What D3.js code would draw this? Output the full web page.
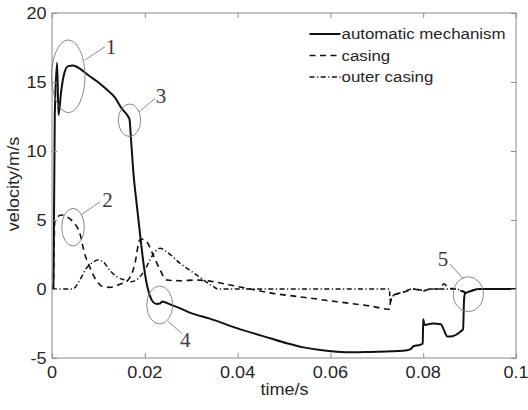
<!DOCTYPE html>
<html>
<head>
<meta charset="utf-8">
<script src="https://cdn.jsdelivr.net/npm/d3@7"></script>
<style>
  html, body { margin: 0; padding: 0; background: #fff; }
  svg { display: block; }
</style>
</head>
<body>
<svg id="chart" width="528" height="410"></svg>
<script>
// ---- data (time in s, velocity in m/s) ----
const mechT = [0, 0.0003, 0.0006, 0.0011, 0.0014, 0.0020, 0.0027, 0.0035, 0.0045, 0.0063, 0.0080, 0.0099, 0.0118, 0.0135, 0.0150, 0.0164, 0.0167, 0.0170, 0.0175, 0.0183, 0.0190, 0.0197, 0.0204, 0.0211, 0.0218, 0.0226, 0.0233, 0.0238, 0.0245, 0.0252, 0.0276, 0.0300, 0.0340, 0.0400, 0.0470, 0.0506, 0.0542, 0.0578, 0.0614, 0.0650, 0.0685, 0.0757, 0.0772, 0.0779, 0.0793, 0.0799, 0.0800, 0.0803, 0.0820, 0.0838, 0.0845, 0.0852, 0.0865, 0.0880, 0.0886, 0.0888, 0.0890, 0.0905, 0.0920, 0.1];
const mechV = [0, 0, 12.6, 16.4, 12.6, 14.4, 15.7, 16.15, 16.2, 15.9, 15.45, 15.0, 14.45, 13.9, 13.1, 12.5, 12.3, 11.0, 8.6, 6.0, 3.9, 1.9, 0.4, -0.5, -0.95, -1.08, -1.05, -0.9, -0.98, -1.08, -1.4, -1.75, -2.15, -2.85, -3.57, -3.93, -4.23, -4.42, -4.54, -4.59, -4.56, -4.47, -4.37, -4.15, -4.05, -3.95, -2.2, -2.6, -2.5, -2.55, -3.0, -3.45, -3.4, -3.1, -2.9, -0.8, -0.35, -0.12, 0, 0];

const casingT = [0, 0.0003, 0.0006, 0.0009, 0.0020, 0.0031, 0.0045, 0.0060, 0.0070, 0.0081, 0.0095, 0.0110, 0.0124, 0.0146, 0.0164, 0.0178, 0.0189, 0.0193, 0.0204, 0.0218, 0.0233, 0.0247, 0.0276, 0.0312, 0.0348, 0.0384, 0.0420, 0.0470, 0.0542, 0.0614, 0.0685, 0.0728, 0.0730, 0.0733, 0.0760, 0.0779, 0.0800, 0.0815, 0.0835, 0.0845, 0.0855, 0.0870, 0.0886, 0.0894, 0.0905, 0.0920, 0.1];
const casingV = [0, 0.5, 4.9, 5.1, 5.36, 5.24, 4.88, 4.03, 2.6, 1.62, 0.65, 0.17, 0.12, 0.34, 0.65, 1.74, 3.55, 3.62, 3.43, 2.46, 1.38, 0.65, 0.6, 0.65, 0.53, 0.29, 0.05, -0.28, -0.6, -0.92, -1.23, -1.47, -0.6, -0.5, -0.2, 0, -0.15, 0, 0, 0.38, 0.05, 0, -0.2, -0.3, -0.12, 0, 0];

const outerT = [0, 0.0045, 0.0060, 0.0074, 0.0085, 0.0099, 0.0110, 0.0124, 0.0139, 0.0157, 0.0171, 0.0186, 0.0200, 0.0211, 0.0220, 0.0233, 0.0247, 0.0276, 0.0312, 0.0348, 0.0358, 0.0727, 0.0729, 0.0733, 0.0757, 0.0779, 0.0800, 0.0815, 0.0870, 0.0886, 0.0894, 0.0905, 0.0920, 0.1];
const outerV = [0, 0, 0.65, 1.5, 1.86, 2.1, 1.98, 1.38, 0.9, 0.65, 0.53, 0.77, 1.38, 2.1, 2.6, 2.95, 2.7, 1.86, 1.01, 0.17, 0, 0, -1.0, -0.55, -0.22, 0.02, -0.1, 0, 0, -0.15, -0.28, -0.12, 0, 0];

const xTicks = [0, 0.02, 0.04, 0.06, 0.08, 0.1];
const xTickLabels = ["0", "0.02", "0.04", "0.06", "0.08", "0.1"];
const yTicks = [-5, 0, 5, 10, 15, 20];
const yTickLabels = ["-5", "0", "5", "10", "15", "20"];
const seriesNames = ["automatic mechanism", "casing", "outer casing"];
const annotationLabels = ["1", "2", "3", "4", "5"];

(function () {
const svg = d3.select("#chart");
const pLeft = 52, pRight = 516, pTop = 13, pBottom = 358;
const x = d3.scaleLinear().domain([0, 0.1]).range([pLeft, pRight]);
const y = d3.scaleLinear().domain([-5, 20]).range([pBottom, pTop]);
const axisColor = "#8a8a8a";
const textColor = "#262626";
const font = "'Liberation Sans', Arial, sans-serif";
const stretch = 1.13;

function addText(g, str, tx, ty, opts) {
  opts = opts || {};
  const rot = opts.rotate ? ` rotate(${opts.rotate})` : "";
  return g.append("text")
    .attr("transform", `translate(${tx},${ty})${rot} scale(${opts.sx || stretch},1)`)
    .attr("text-anchor", opts.anchor || "start")
    .attr("dy", opts.dy || 0)
    .attr("font-family", opts.family || font)
    .attr("font-size", opts.size || 16)
    .attr("fill", opts.fill || textColor)
    .text(str);
}

svg.append("clipPath").attr("id", "plotclip")
  .append("rect").attr("x", pLeft).attr("y", pTop).attr("width", pRight - pLeft).attr("height", pBottom - pTop);

const lineGen = d3.line().x(d => x(d[0])).y(d => y(d[1])).curve(d3.curveMonotoneX);
const plot = svg.append("g").attr("clip-path", "url(#plotclip)");

const series = [
  { t: outerT, v: outerV, dash: "5,2.5,1.2,2.5", w: 1.5 },
  { t: casingT, v: casingV, dash: "6,4.5", w: 1.6 },
  { t: mechT, v: mechV, dash: null, w: 2 }
];
series.forEach(s => {
  const pts = s.t.map((t, i) => [t, s.v[i]]);
  plot.append("path")
    .attr("d", lineGen(pts))
    .attr("fill", "none")
    .attr("stroke", "#111")
    .attr("stroke-width", s.w)
    .attr("stroke-dasharray", s.dash)
    .attr("stroke-linejoin", "round");
});

const axes = svg.append("g");
axes.append("rect")
  .attr("x", pLeft).attr("y", pTop).attr("width", pRight - pLeft).attr("height", pBottom - pTop)
  .attr("fill", "none").attr("stroke", axisColor).attr("stroke-width", 1);

const bottomAxis = d3.axisBottom(x).tickValues(xTicks).tickSize(-5).tickFormat("");
const topAxis = d3.axisTop(x).tickValues(xTicks).tickSize(-5).tickFormat("");
const leftAxis = d3.axisLeft(y).tickValues(yTicks).tickSize(-5).tickFormat("");
const rightAxis = d3.axisRight(y).tickValues(yTicks).tickSize(-5).tickFormat("");
[[bottomAxis, `translate(0,${pBottom})`], [topAxis, `translate(0,${pTop})`],
 [leftAxis, `translate(${pLeft},0)`], [rightAxis, `translate(${pRight},0)`]].forEach(([ax, tr]) => {
  const g = axes.append("g").attr("transform", tr).call(ax);
  g.select(".domain").remove();
  g.selectAll("line").attr("stroke", axisColor);
});

xTicks.forEach((t, i) => addText(svg, xTickLabels[i], x(t), 378, { anchor: "middle" }));
yTicks.forEach((v, i) => addText(svg, yTickLabels[i], 46.5, y(v), { anchor: "end", dy: "0.36em" }));

addText(svg, "time/s", 284.5, 395, { anchor: "middle" });
addText(svg, "velocity/m/s", 18.5, 184, { anchor: "middle", rotate: -90 });

const legendY = [34, 55.5, 77];
const legendDash = [null, "6,4.5", "5,2.5,1.2,2.5"];
const legendW = [2, 1.6, 1.5];
seriesNames.forEach((name, i) => {
  svg.append("line")
    .attr("x1", 309.5).attr("x2", 340.5).attr("y1", legendY[i]).attr("y2", legendY[i])
    .attr("stroke", "#111").attr("stroke-width", legendW[i]).attr("stroke-dasharray", legendDash[i]);
  addText(svg, name, 341.5, legendY[i], { dy: "0.35em", size: 14.8, sx: 1.14 });
});

const ann = [
  { cx: 68.3, cy: 76.3, rx: 16.7, ry: 36.3, l: [85, 60, 105, 46.7], tx: 111, ty: 54 },
  { cx: 73, cy: 227.2, rx: 11.3, ry: 18.8, l: [81, 215, 100, 201.7], tx: 107.5, ty: 206.5 },
  { cx: 129.5, cy: 120.3, rx: 11.2, ry: 16.3, l: [139.3, 111.7, 155, 98.3], tx: 161, ty: 103 },
  { cx: 159.7, cy: 305, rx: 13, ry: 19, l: [168.3, 321.7, 181.7, 333.3], tx: 185.3, ty: 347 },
  { cx: 468.3, cy: 294.2, rx: 15, ry: 17.5, l: [463, 278.5, 450, 264], tx: 443, ty: 266 }
];
const annG = svg.append("g");
ann.forEach((a, i) => {
  annG.append("ellipse")
    .attr("cx", a.cx).attr("cy", a.cy).attr("rx", a.rx).attr("ry", a.ry)
    .attr("fill", "none").attr("stroke", "#7a7a7a").attr("stroke-width", 0.9);
  annG.append("line")
    .attr("x1", a.l[0]).attr("y1", a.l[1]).attr("x2", a.l[2]).attr("y2", a.l[3])
    .attr("stroke", "#7a7a7a").attr("stroke-width", 0.9);
  addText(annG, annotationLabels[i], a.tx, a.ty, {
    anchor: "middle", size: 21, sx: 1, family: "'Liberation Serif', 'Times New Roman', serif", fill: "#3a3a3a"
  });
});
})();
</script>
</body>
</html>
